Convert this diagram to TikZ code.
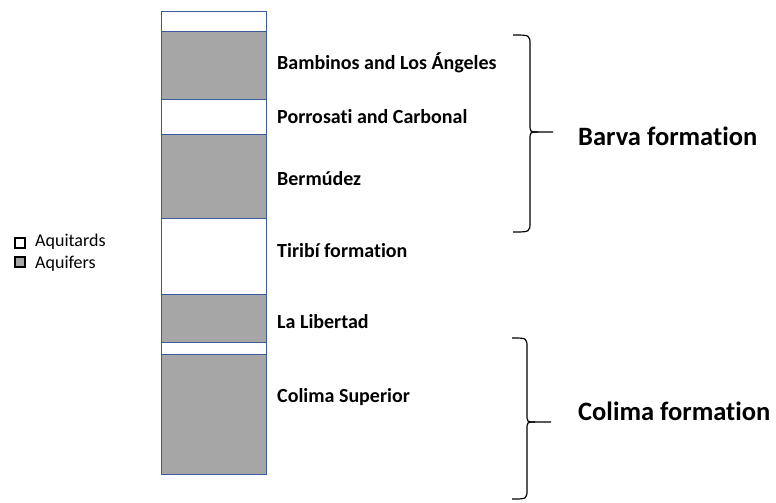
\documentclass[tikz,border=0pt]{standalone}
\usepackage{fontspec}
\setmainfont[Ligatures=NoCommon]{Carlito}
\definecolor{aqgray}{HTML}{A6A6A6}
\definecolor{edgeblue}{HTML}{3A5C9E}
\begin{document}
\begin{tikzpicture}[x=1pt,y=-1pt,
  layer/.style={draw=edgeblue, line width=0.9pt, minimum width=105pt, inner sep=0pt, outer sep=0pt},
  aquifer/.style={layer, fill=aqgray},
  aquitard/.style={layer, fill=white},
  lbl/.style={anchor=base west, inner sep=0pt, font=\fontsize{20}{24}\selectfont\bfseries},
  formlbl/.style={anchor=base west, inner sep=0pt, font=\fontsize{26.5}{30}\selectfont\bfseries},
  legbox/.style={draw=black, line width=2pt, minimum width=10pt, minimum height=10pt, inner sep=0pt},
  legtxt/.style={anchor=base west, inner sep=0pt, font=\fontsize{18}{22}\selectfont},
  brace/.style={draw=black, line width=1.2pt}
]
\useasboundingbox (0,0) rectangle (776,503);
% column layers (x 161..266)
\node[aquitard, minimum height=20pt] (l1) at (213.5,21) {};
\node[aquifer, minimum height=68pt] (l2) at (213.5,65) {};
\node[aquitard, minimum height=35pt] (l3) at (213.5,116.5) {};
\node[aquifer, minimum height=84pt] (l4) at (213.5,176) {};
\node[aquitard, minimum height=76pt] (l5) at (213.5,256) {};
\node[aquifer, minimum height=48pt] (l6) at (213.5,318) {};
\node[aquitard, minimum height=12pt] (l7) at (213.5,348) {};
\node[aquifer, minimum height=120pt] (l8) at (213.5,414) {};
% layer labels
\node[lbl] (t1) at (277,70) {Bambinos and Los Ángeles};
\node[lbl] (t2) at (277,123) {Porrosati and Carbonal};
\node[lbl] (t3) at (277,185) {Bermúdez};
\node[lbl] (t4) at (277,257) {Tiribí formation};
\node[lbl] (t5) at (277,328) {La Libertad};
\node[lbl] (t6) at (277,402) {Colima Superior};
% braces
\coordinate (b1top) at (513,35);
\coordinate (b1tip) at (553,132);
\coordinate (b1bot) at (513,232);
\draw[brace] (b1top) .. controls (530,35) .. (530,45) -- (530,124)
  .. controls (530,132) .. (538,132) -- (b1tip);
\draw[brace] (538,132) .. controls (530,132) .. (530,140) -- (530,222)
  .. controls (530,232) .. (b1bot);
\coordinate (b2top) at (512,338);
\coordinate (b2tip) at (551,422);
\coordinate (b2bot) at (512,499);
\draw[brace] (b2top) .. controls (527,338) .. (527,348) -- (527,414)
  .. controls (527,422) .. (535,422) -- (b2tip);
\draw[brace] (535,422) .. controls (527,422) .. (527,430) -- (527,489)
  .. controls (527,499) .. (b2bot);
\node[formlbl] (barva) at (578,145) {Barva formation};
\node[formlbl] (colima) at (578,420) {Colima formation};
% legend
\node[legbox, fill=white] (k1) at (20,242.5) {};
\node[legbox, fill=aqgray] (k2) at (20,262) {};
\node[legtxt] (k1t) at (35,246) {Aquitards};
\node[legtxt] (k2t) at (35,268) {Aquifers};
\end{tikzpicture}
\end{document}
